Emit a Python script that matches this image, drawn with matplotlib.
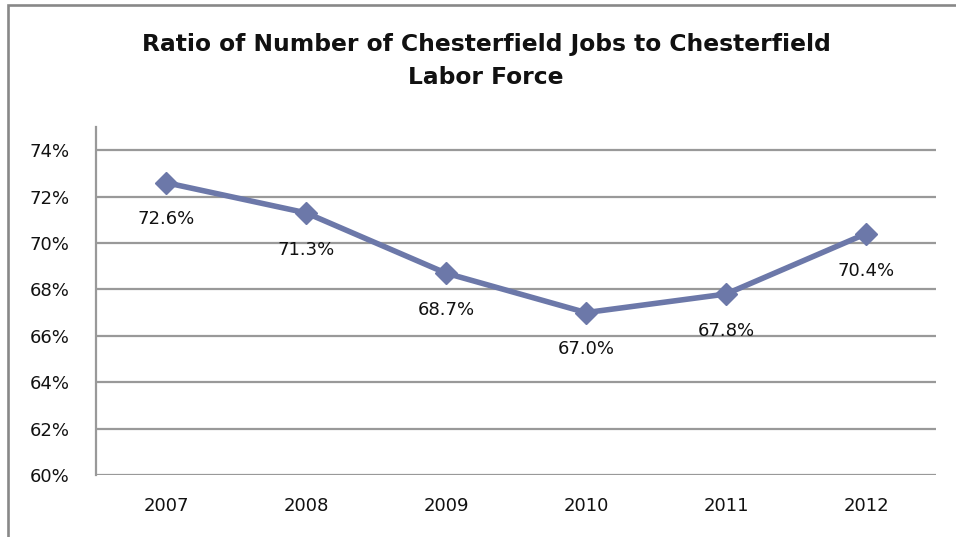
import matplotlib
matplotlib.use("Agg")
import matplotlib.pyplot as plt
from matplotlib.patches import Rectangle
from matplotlib.ticker import FuncFormatter

years = ["2007", "2008", "2009", "2010", "2011", "2012"]
ratio = [72.6, 71.3, 68.7, 67.0, 67.8, 70.4]
yticks = [60, 62, 64, 66, 68, 70, 72, 74]

LINE = "#6C78A9"
GRID = "#999999"

plt.rcParams["font.family"] = ["DejaVu Sans"]

fig = plt.figure(figsize=(9.56, 5.37), dpi=100)
# chart frame (left and top edges visible)
fig.patches.append(Rectangle((8 / 956, -0.1), 1.2, 1.1 - 5 / 537, transform=fig.transFigure,
                             fill=False, edgecolor="#888888", linewidth=1.9))

ax = fig.add_axes([96 / 956, 62 / 537, 840 / 956, 348 / 537])
x = list(range(len(years)))
ax.plot(x, ratio, color=LINE, linewidth=4, marker="D", markersize=11, zorder=3)
for xi, v in zip(x, ratio):
    ax.annotate(f"{v:.1f}%", (xi, v), xytext=(0, -26.5), textcoords="offset points",
                ha="center", va="center", fontsize=13, color="#111111")

ax.set_xlim(-0.5, len(years) - 0.5)
ax.set_ylim(60, 75)
ax.set_yticks(yticks)
ax.yaxis.set_major_formatter(FuncFormatter(lambda v, p: f"{v:.0f}%"))
ax.set_xticks(x)
ax.set_xticklabels(years)
ax.grid(axis="y", color=GRID, linewidth=1.6)
ax.set_axisbelow(True)
for s in ["top", "right", "bottom"]:
    ax.spines[s].set_visible(False)
ax.spines["left"].set_color(GRID)
ax.spines["left"].set_linewidth(1.6)
ax.tick_params(length=0, labelsize=13, colors="#111111")
ax.tick_params(axis="y", pad=19)
ax.tick_params(axis="x", pad=16)

fig.text(486 / 956, 1 - 61 / 537, "Ratio of Number of Chesterfield Jobs to Chesterfield\nLabor Force",
         ha="center", va="center", fontsize=16.8, fontweight="bold", linespacing=1.55, color="#111111")

fig.savefig("out.png", dpi=100)
